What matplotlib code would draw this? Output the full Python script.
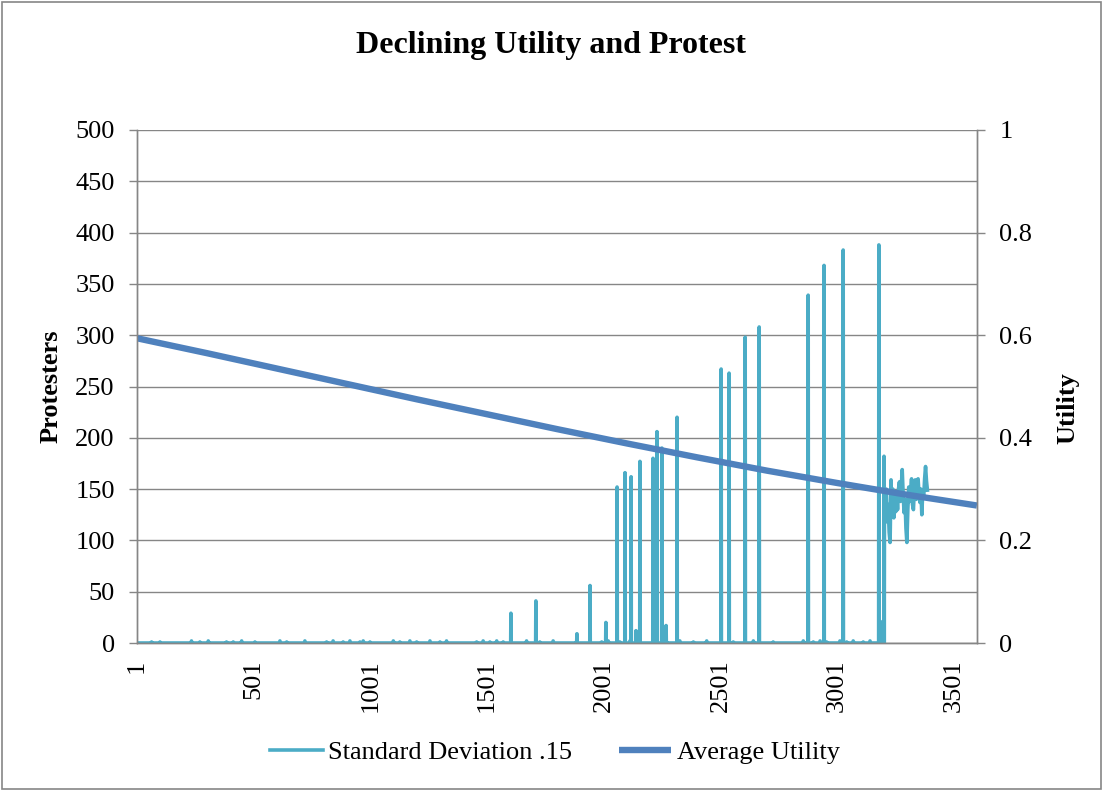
import numpy as np
import matplotlib
matplotlib.use("Agg")
import matplotlib.pyplot as plt
from matplotlib.patches import Rectangle

plt.rcParams['font.family'] = ['Liberation Serif', 'DejaVu Serif']

# ---- data -------------------------------------------------------------
n_periods = 3600           # periods on the category axis
calm_end = 3203            # last period before the sustained protest

# small background activity (period, protesters)
bump_cats = [63, 99, 234, 270, 306, 384, 413, 449, 506, 613, 642, 720, 813,
             841, 884, 913, 956, 970, 999, 1099, 1127, 1170, 1199, 1256,
             1299, 1327, 1456, 1484, 1513, 1542, 1570, 1670, 1727, 1784,
             1885, 1992, 2020, 2070, 2113, 2270, 2327, 2385, 2442, 2556,
             2642, 2727, 2856, 2899, 2928, 2956, 3013, 3042, 3070, 3113, 3142]
bump_vals = [1, 1, 2, 1, 2, 1, 1, 2, 1, 2, 1, 2, 1,
             2, 1, 2, 1, 2, 1, 2, 1, 2, 1, 2,
             1, 2, 1, 2, 1, 2, 1, 2, 1, 2,
             2, 1, 2, 1, 2, 1, 2, 1, 2, 1,
             2, 1, 2, 1, 2, 1, 2, 1, 2, 1, 2]

# protest outbreaks (period, protesters)
spike_cats = [1603, 1710, 1886, 1942, 2010, 2058, 2092, 2118, 2139, 2156,
              2212, 2229, 2250, 2268, 2315, 2504, 2538, 2607, 2667, 2877,
              2945, 3027, 3180, 3196, 3202]
spike_vals = [29, 41, 9, 56, 20, 152, 166, 162, 12, 177,
              180, 206, 190, 17, 220, 267, 263, 298, 308, 339,
              368, 383, 388, 21, 182]

# sustained protest at the end of the run
noise_cats = [3204, 3208, 3212, 3216, 3220, 3224, 3228, 3232, 3236, 3240,
              3244, 3248, 3252, 3256, 3260, 3264, 3268, 3272, 3276, 3280,
              3284, 3288, 3292, 3296, 3300, 3304, 3308, 3312, 3316, 3320,
              3324, 3328, 3332, 3336, 3340, 3344, 3348, 3352, 3356, 3360,
              3364, 3368, 3372, 3376, 3380, 3384, 3388]
noise_vals = [140, 120, 150, 118, 135, 108, 98, 159, 125, 150,
              122, 140, 128, 146, 130, 150, 157, 138, 152, 169,
              145, 127, 140, 112, 98, 130, 152, 138, 148, 160,
              135, 130, 150, 159, 140, 155, 160, 145, 137, 150,
              125, 148, 142, 160, 172, 158, 149]

# average utility (period, utility)
utility_cats = [1, 300, 600, 900, 1200, 1500, 1800, 2100, 2400, 2700,
                3000, 3300, 3600]
utility_vals = [0.594, 0.565, 0.535, 0.505, 0.475, 0.446, 0.417, 0.389,
                0.362, 0.336, 0.312, 0.289, 0.268]

x_tick_cats = [1, 501, 1001, 1501, 2001, 2501, 3001, 3501]
left_ticks = [0, 50, 100, 150, 200, 250, 300, 350, 400, 450, 500]
right_ticks = [0, 0.2, 0.4, 0.6, 0.8, 1.0]
right_tick_labels = ['0', '0.2', '0.4', '0.6', '0.8', '1']

# ---- assemble the protester series ------------------------------------
calm = np.zeros(calm_end)
for c, v in zip(bump_cats, bump_vals):
    calm[c - 1] = v
for c, v in zip(spike_cats, spike_vals):
    calm[c - 1] = v
protest_x = np.concatenate([np.arange(1, calm_end + 1), noise_cats])
protesters = np.concatenate([calm, noise_vals])

# ---- figure ------------------------------------------------------------
W, H = 1102, 790
fig = plt.figure(figsize=(W / 100, H / 100), dpi=100)
fig.patch.set_facecolor('white')

grid_col = '#868686'
cyan = '#4BACC6'
blue = '#4F81BD'
fs = 19

ax = fig.add_axes([137 / W, 1 - 643 / H, 840 / W, 513 / H])
ax2 = ax.twinx()

l1, = ax.plot(protest_x, protesters, color=cyan, lw=2.6,
              solid_joinstyle='round', label='Standard Deviation .15')
l2, = ax2.plot(utility_cats, utility_vals, color=blue, lw=4.6,
               solid_capstyle='butt', label='Average Utility')

ax.set_xlim(0.5, n_periods + 0.5)
ax.set_ylim(0, 500)
ax2.set_ylim(0, 1)

ax.set_yticks(left_ticks)
ax.set_yticklabels([str(t) for t in left_ticks])
ax2.set_yticks(right_ticks)
ax2.set_yticklabels(right_tick_labels)
ax.set_xticks(x_tick_cats)
ax.set_xticklabels([str(t) for t in x_tick_cats], rotation=90)

ax.yaxis.grid(True, color=grid_col, lw=1.0)
ax.set_axisbelow(True)

ax.tick_params(axis='y', direction='out', length=6, width=1.0,
               color=grid_col, labelsize=fs, pad=10)
ax.tick_params(axis='x', length=0, labelsize=fs, pad=12)
ax2.tick_params(axis='y', direction='out', length=6, width=1.0,
                color=grid_col, labelsize=fs, pad=10)

for a in (ax, ax2):
    a.spines['top'].set_visible(False)
    for s in ('left', 'right', 'bottom'):
        a.spines[s].set_color(grid_col)
        a.spines[s].set_linewidth(1.0)
    a.patch.set_visible(False)

# titles and axis labels
fig.text(551 / W, 1 - 45 / H, 'Declining Utility and Protest',
         ha='center', va='center', fontsize=23, fontweight='bold')
fig.text(51 / W, 1 - 386 / H, 'Protesters', rotation=90,
         ha='center', va='center', fontsize=fs, fontweight='bold')
fig.text(1068 / W, 1 - 408 / H, 'Utility', rotation=90,
         ha='center', va='center', fontsize=fs, fontweight='bold')

fig.legend([l1, l2], ['Standard Deviation .15', 'Average Utility'],
           loc='center', bbox_to_anchor=(555 / W, 1 - 752 / H), ncol=2,
           frameon=False, fontsize=fs, handlelength=2.0,
           handletextpad=0.2, columnspacing=1.75)

# chart border
fig.patches.append(Rectangle((1.5 / W, 1.5 / H), 1 - 3 / W, 1 - 3 / H,
                             transform=fig.transFigure, fill=False,
                             edgecolor=grid_col, lw=1.2))

fig.savefig('out.png', dpi=100)
